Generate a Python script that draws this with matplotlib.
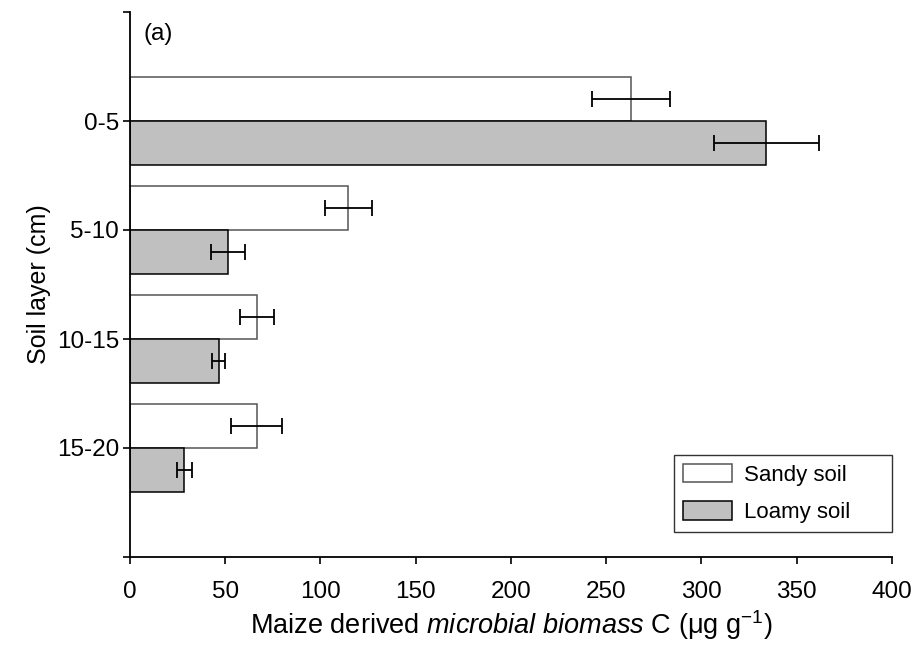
import numpy as np
import matplotlib.pyplot as plt

plt.rcParams['font.family'] = ['Liberation Sans', 'DejaVu Sans']
plt.rcParams['mathtext.fontset'] = 'custom'
plt.rcParams['mathtext.rm'] = 'Liberation Sans'
plt.rcParams['mathtext.it'] = 'Liberation Sans:italic'

# data
layers = ['0-5', '5-10', '10-15', '15-20']
sandy = [263, 114.5, 66.5, 66.5]
sandy_err = [20.5, 12.3, 9.0, 13.4]
loamy = [334, 51.5, 46.5, 28.5]
loamy_err = [27.5, 8.8, 3.4, 3.9]

fig = plt.figure(figsize=(9.2, 6.53), dpi=100)
ax = fig.add_axes([130 / 920, 96 / 653, 762 / 920, 545 / 653])

y = np.arange(len(layers))
h = 0.4
ekw = dict(ecolor='black', elinewidth=1.3, capsize=5.5, capthick=1.3)
ax.barh(y - h / 2, sandy, height=h, color='white', edgecolor='#555555',
        linewidth=1.1, xerr=sandy_err, error_kw=ekw, label='Sandy soil')
ax.barh(y + h / 2, loamy, height=h, color='#c0c0c0', edgecolor='black',
        linewidth=1.1, xerr=loamy_err, error_kw=ekw, label='Loamy soil')

ax.set_xlim(0, 400)
ax.set_ylim(4, -1)
ax.set_xticks(np.arange(0, 401, 50))
ax.set_yticks([-1, 0, 1, 2, 3, 4])
ax.set_yticklabels([''] + layers + [''])
ax.spines['top'].set_visible(False)
ax.spines['right'].set_visible(False)
ax.spines['left'].set_linewidth(1.3)
ax.spines['bottom'].set_linewidth(1.3)
ax.tick_params(axis='both', direction='out', length=5, width=1.2, labelsize=17.5)
ax.tick_params(axis='x', pad=12)
ax.tick_params(axis='y', pad=3)

ax.set_xlabel('Maize derived $\\mathit{microbial\\ biomass}$ C (μg g$^{-1}$)', fontsize=19.5, labelpad=4)
ax.set_ylabel('Soil layer (cm)', fontsize=18, labelpad=4)
ax.text(0.018, 0.96, '(a)', transform=ax.transAxes, fontsize=17.5, va='center')

# legend box stretched to the width seen in the reference
leg = ax.legend(loc='lower left', bbox_to_anchor=(544 / 762, 25 / 545, 218 / 762, 0.1),
                mode='expand', fontsize=16, frameon=True,
                fancybox=False, edgecolor='black', handlelength=2.2, handleheight=0.9,
                borderpad=0.4, labelspacing=0.7, handletextpad=0.55, borderaxespad=0)
leg.get_frame().set_linewidth(1.0)

fig.savefig('out.png', dpi=100)
